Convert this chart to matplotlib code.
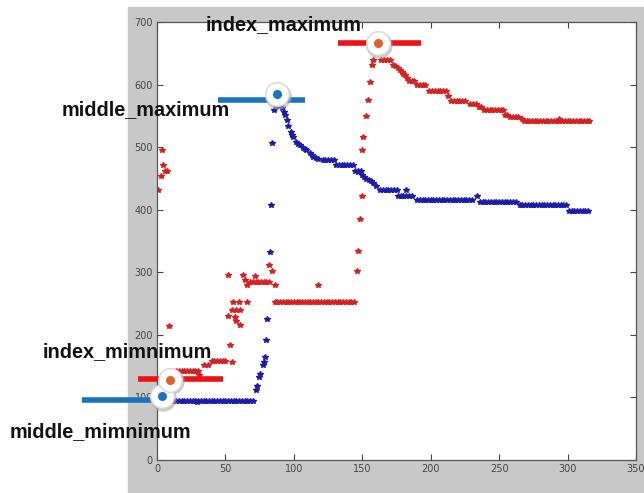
import numpy as np
import matplotlib.pyplot as plt
from matplotlib.patches import Rectangle

W, H = 644, 493

# plateaus: (x_start, x_end, value)
blue_runs = [(8, 71, 95), (121, 129, 479), (131, 143, 472), (145, 150, 462),
             (163, 176, 431), (176, 187, 422), (190, 231, 415), (236, 263, 412),
             (265, 299, 408), (301, 316, 398)]
blue_x = [29, 72, 73, 74.5, 75.5, 77.5, 78, 79, 79.6, 80.5, 82.6, 83.5, 84, 85.5,
          87, 89, 91, 92.5, 93.5, 95, 96, 97.6, 98.5, 99.7, 101.5, 103, 104.5, 106.5,
          108, 109, 111.7, 113, 114, 116, 117.6, 147, 149.5, 151, 153, 155, 156.7,
          158, 160, 182, 233.5]
blue_y = [93, 112, 118, 133, 138, 152, 157, 165, 192, 226, 333, 407, 507, 559,
          566, 566, 562, 556, 551, 543, 534, 524, 520, 516, 508, 505, 503, 499,
          497, 495, 490, 487, 484, 482, 481, 460, 455, 452, 449, 447, 446,
          442, 438, 431, 422]

red_runs = [(14, 30, 143), (40, 51, 158), (68, 82, 285), (86, 145, 253),
            (164, 170, 639), (184, 188, 606), (190, 196, 599), (199, 211, 590),
            (215, 226, 574), (229, 233, 569), (239, 253, 559), (254, 257, 552),
            (258, 265, 548), (268, 316, 542)]
red_x = [1, 2.7, 3.4, 4.6, 6, 7.2, 9, 31, 34, 37, 53, 55,
         52, 63, 71.5, 64, 65.5, 55.7, 60, 66, 54.5, 58, 60.5, 52, 57, 57.5, 60.5,
         82, 84, 86, 117.6,
         146, 147, 148, 149.5, 150, 150.6, 153, 154, 155.6, 157, 158,
         172.6, 174, 176, 177.5, 178.7, 180, 181, 182.5, 212.8, 235.6, 237,
         266.4, 294]
red_y = [431, 454, 496, 471, 462, 462, 214, 136, 152, 152, 184, 157,
         295, 295, 294, 288, 279, 253, 253, 253, 240, 239, 239, 230, 229, 222, 216,
         311, 302, 280, 279,
         302, 334, 385, 422, 495, 517, 549, 575, 604, 631, 640,
         631, 629, 626, 623, 620, 617, 615, 611, 581, 564, 564,
         545, 545]

# annotation bars (x_start, x_end, y) and their knobs (x, y)
blue_bars = [(-55, 4, 96), (44.6, 108, 575)]
red_bars = [(-13.7, 48, 129), (132, 192.6, 666)]
blue_knobs = [(3.9, 102), (87.4, 585)]
red_knobs = [(9.5, 128), (161.7, 666)]

labels = ["index_maximum", "middle_maximum", "index_mimnimum", "middle_mimnimum"]
label_pos = [(206, 25), (62, 110), (43, 352), (10, 432)]


def expand(runs):
    xs, ys = [], []
    for x0, x1, v in runs:
        pts = np.arange(x0, x1 + 0.1, 2)
        xs.extend(pts)
        ys.extend([v] * len(pts))
    return xs, ys


fig = plt.figure(figsize=(W / 100, H / 100), dpi=100)
fig.patch.set_facecolor('white')
fig.patches.append(Rectangle((128 / W, 0), 1 - 128 / W, 1 - 7 / H,
                             transform=fig.transFigure, color='#c8c8c8', zorder=-10))

ax = fig.add_axes([157 / W, 1 - 460 / H, (636 - 157) / W, (460 - 22) / H])
ax.set_facecolor('white')

bx, by = expand(blue_runs)
rx, ry = expand(red_runs)
ax.plot(bx + blue_x, by + blue_y, '*', color='#1c1ca8', markersize=3.8, linestyle='none')
ax.plot(rx + red_x, ry + red_y, '*', color='#d22222', markersize=3.8, linestyle='none')

for x0, x1, y in blue_bars:
    ax.plot([x0, x1], [y, y], color='#1a73c0', linewidth=4, solid_capstyle='butt',
            clip_on=False, zorder=5)
for x0, x1, y in red_bars:
    ax.plot([x0, x1], [y, y], color='#ee1111', linewidth=4, solid_capstyle='butt',
            clip_on=False, zorder=5)

for knobs, c in [(blue_knobs, '#1a73c0'), (red_knobs, '#e0602a')]:
    for x, y in knobs:
        ax.plot(x + 0.8, y - 2.5, 'o', markersize=19, color='#b0a8a0', alpha=0.6,
                markeredgewidth=0, clip_on=False, zorder=6)
        ax.plot(x, y, 'o', markersize=17, markerfacecolor='white',
                markeredgecolor='#d8d8d8', markeredgewidth=1, clip_on=False, zorder=7)
        ax.plot(x, y, 'o', markersize=6.5, color=c, markeredgewidth=0,
                clip_on=False, zorder=8)

ax.set_xlim(0, 350)
ax.set_ylim(0, 700)
ax.set_xticks(np.arange(0, 351, 50))
ax.set_yticks(np.arange(0, 701, 100))
ax.tick_params(direction='in', length=4, width=0.8, top=True, right=True,
               labelsize=7, colors='#444444', pad=3)
for s in ax.spines.values():
    s.set_color('#555555')
    s.set_linewidth(0.9)

for txt, (px, py) in zip(labels, label_pos):
    fig.text(px / W, 1 - py / H, txt, fontsize=14.3, fontweight='bold',
             family='Liberation Sans', color='#111111', ha='left', va='center', zorder=10)

fig.savefig('out.png', dpi=100)
